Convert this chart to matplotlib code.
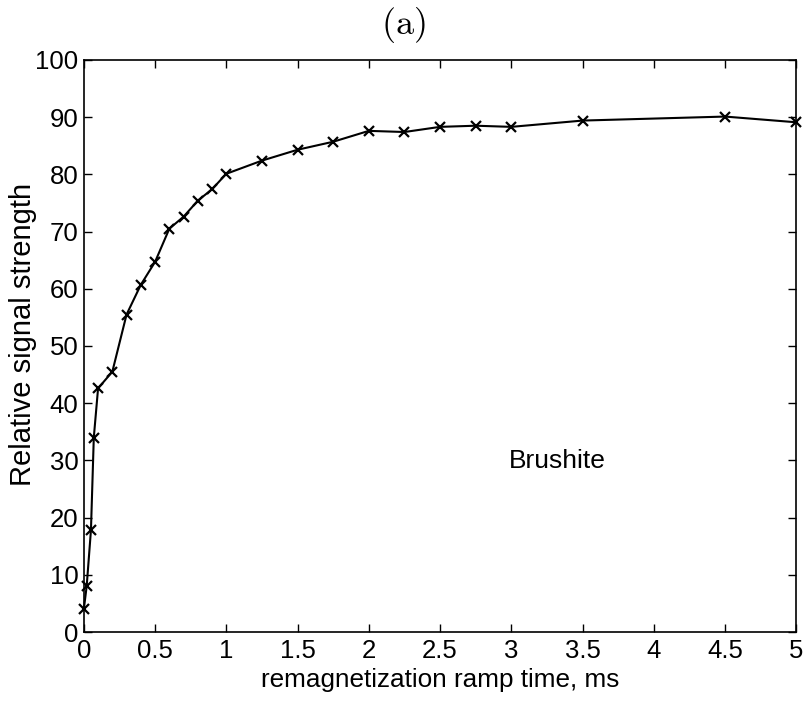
import matplotlib
matplotlib.use("Agg")
import matplotlib.pyplot as plt

# ramp time (ms) and relative signal strength
ramp_ms = [0.0, 0.02, 0.05, 0.07, 0.1, 0.2, 0.3, 0.4, 0.5, 0.6, 0.7, 0.8, 0.9,
           1.0, 1.25, 1.5, 1.75, 2.0, 2.25, 2.5, 2.75, 3.0, 3.5, 4.5, 5.0]
signal = [4.0, 8.0, 17.8, 34.0, 42.6, 45.5, 55.5, 60.7, 64.7, 70.5, 72.6, 75.4,
          77.4, 80.1, 82.4, 84.3, 85.7, 87.6, 87.4, 88.3, 88.5, 88.3, 89.4,
          90.1, 89.1]

xticks = [0, 0.5, 1, 1.5, 2, 2.5, 3, 3.5, 4, 4.5, 5]
xticklabels = ["0", "0.5", "1", "1.5", "2", "2.5", "3", "3.5", "4", "4.5", "5"]
yticks = list(range(0, 101, 10))

plt.rcParams["font.family"] = ["Liberation Sans", "DejaVu Sans"]
plt.rcParams["mathtext.fontset"] = "cm"

fig = plt.figure(figsize=(8.06, 7.05), dpi=100)
ax = fig.add_axes([0.104, 0.1035, 0.884, 0.8115])

ax.plot(ramp_ms, signal, "-", color="black", lw=1.5, marker="x",
        markersize=7.5, markeredgewidth=1.6, clip_on=False)

ax.set_xlim(0, 5)
ax.set_ylim(0, 100)
ax.set_xticks(xticks)
ax.set_xticklabels(xticklabels)
ax.set_yticks(yticks)
ax.tick_params(direction="in", length=6, width=1, top=True, right=True,
               labelsize=18.5)
ax.tick_params(axis="x", pad=5)
ax.tick_params(axis="y", pad=4)
for s in ax.spines.values():
    s.set_linewidth(1.2)

ax.set_xlabel("remagnetization ramp time, ms", fontsize=18.8)
ax.xaxis.set_label_coords(0.5, -0.062)
ax.set_ylabel("Relative signal strength", fontsize=21)
ax.yaxis.set_label_coords(-0.066, 0.52)

ax.text(0.449, 1.061, r"$\mathrm{(a)}$", fontsize=26, ha="center",
        va="center", transform=ax.transAxes)

ax.text(2.98, 29.9, "Brushite", fontsize=19, va="center", ha="left")

fig.savefig("out.png", dpi=100)
